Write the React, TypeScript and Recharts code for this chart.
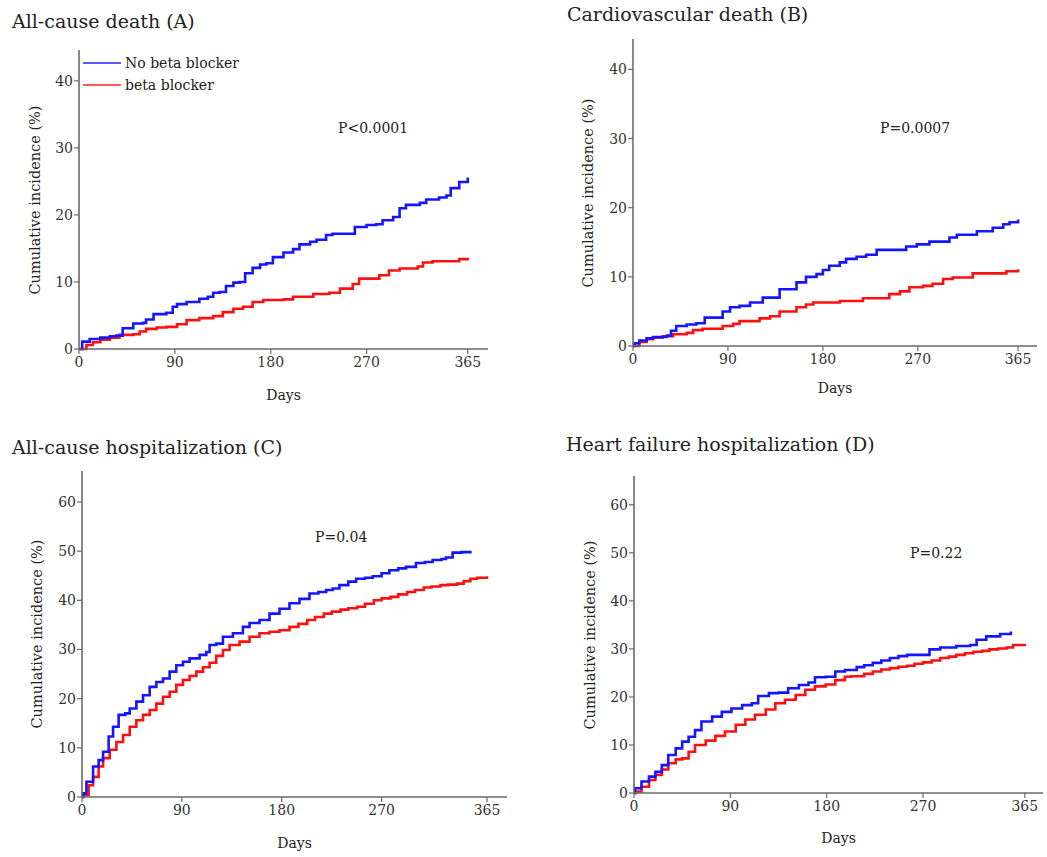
import React from 'react';
import { LineChart, Line, XAxis, YAxis } from 'recharts';

type Pt = [number, number];

const FONT = '"DejaVu Serif", "Liberation Serif", serif';
const BLUE = '#1515ff';
const RED = '#ff1010';
const AXIS = '#6a6a6a';

const DAY_TICKS = [0, 90, 180, 270, 365];
const DEATH_TICKS = [0, 10, 20, 30, 40];
const HOSP_TICKS = [0, 10, 20, 30, 40, 50, 60];
const SERIES_NAMES = ['No beta blocker', 'beta blocker'];
const PANEL_TITLES = [
  'All-cause death (A)',
  'Cardiovascular death (B)',
  'All-cause hospitalization (C)',
  'Heart failure hospitalization (D)',
];
const P_VALUES = ['P<0.0001', 'P=0.0007', 'P=0.04', 'P=0.22'];
const X_LABEL = 'Days';
const Y_LABEL = 'Cumulative incidence (%)';

// [day, cumulative incidence %]
const A_NO_BB: Pt[] = [[0,0],[3,1.1],[10,1.5],[20,1.7],[29,1.9],[35,2.0],[41,3.1],[51,3.8],[60,3.9],[63,4.4],[70,5.2],[82,5.4],[88,6.3],[92,6.7],[101,7.0],[113,7.5],[121,7.8],[126,8.4],[132,8.5],[138,9.4],[145,9.9],[151,10.0],[156,11.3],[163,12.1],[170,12.6],[176,12.8],[182,13.7],[192,14.4],[201,14.9],[207,15.6],[217,16.0],[223,16.3],[232,17.0],[238,17.2],[254,17.2],[259,18.2],[270,18.5],[279,18.6],[285,19.2],[295,19.7],[301,21.0],[307,21.5],[320,21.8],[326,22.3],[338,22.6],[345,22.9],[349,24.0],[357,24.9],[365,25.6]];
const A_BB: Pt[] = [[0,0],[7,0.6],[13,1.0],[20,1.4],[29,1.7],[38,2.1],[51,2.2],[57,2.6],[63,3.0],[73,3.2],[82,3.3],[92,3.7],[101,4.3],[113,4.6],[126,4.9],[135,5.5],[145,6.0],[154,6.3],[163,7.0],[173,7.3],[192,7.4],[201,7.8],[220,8.2],[235,8.4],[245,9.0],[257,9.7],[263,10.5],[282,11.0],[291,11.7],[301,12.0],[318,12.3],[323,12.9],[332,13.1],[357,13.4],[365,13.6]];

const B_NO_BB: Pt[] = [[0,0],[1.6,0.4],[6,0.8],[13,1.1],[19,1.3],[32,1.5],[36,2.2],[41,2.9],[51,3.1],[60,3.3],[68,4.1],[85,5.0],[92,5.6],[101,5.8],[111,6.3],[123,7.0],[139,8.2],[155,9.2],[164,10.0],[174,10.4],[180,11.0],[186,11.6],[196,12.1],[202,12.6],[212,12.9],[221,13.2],[231,13.9],[259,14.4],[269,14.7],[281,15.1],[300,15.7],[307,16.1],[326,16.6],[341,17.1],[351,17.6],[357,17.9],[365,18.3]];
const B_BB: Pt[] = [[0,0],[6,0.6],[13,1.0],[19,1.2],[28,1.4],[38,1.7],[51,1.9],[57,2.3],[66,2.5],[85,2.9],[95,3.2],[101,3.6],[120,4.0],[130,4.3],[139,5.0],[155,5.6],[164,6.0],[171,6.3],[196,6.5],[218,6.9],[243,7.5],[253,7.9],[262,8.5],[275,8.7],[284,9.0],[294,9.7],[303,9.9],[322,10.5],[354,10.8],[365,11.1]];

const C_NO_BB: Pt[] = [[0,0],[1,0.75],[4,3.1],[10,6.2],[15,7.5],[19,9.2],[24,12.3],[28,14.3],[33,16.7],[39,17.0],[43,18.0],[49,19.4],[55,20.7],[61,22.4],[67,23.4],[73,24.1],[79,25.5],[85,26.8],[91,27.5],[97,28.2],[106,28.9],[112,29.5],[115,30.9],[121,31.2],[127,32.6],[136,33.3],[145,34.6],[151,35.4],[160,36.0],[169,37.3],[178,38.3],[187,39.4],[196,40.3],[205,41.4],[213,41.7],[220,42.1],[226,42.4],[232,43.1],[240,43.8],[247,44.4],[255,44.6],[262,44.9],[270,45.5],[277,46.1],[285,46.5],[292,46.8],[301,47.6],[309,47.8],[316,48.2],[324,48.4],[328,48.7],[334,49.7],[342,49.8],[350,50.1]];
const C_BB: Pt[] = [[0,0],[1,0.4],[6,2.4],[10,4.1],[15,6.2],[19,7.9],[25,9.6],[31,11.2],[37,12.6],[43,14.3],[49,15.6],[55,16.7],[61,17.7],[67,19.0],[73,20.4],[79,21.4],[85,22.8],[91,23.8],[97,24.6],[103,25.5],[109,26.4],[115,27.3],[121,28.7],[127,29.9],[133,30.9],[142,31.6],[151,32.6],[160,33.3],[169,33.6],[178,33.9],[187,34.6],[195,35.2],[203,36.0],[210,36.6],[218,37.3],[225,37.7],[233,38.1],[240,38.4],[248,38.7],[255,39.3],[263,40.0],[270,40.4],[278,40.7],[285,41.2],[293,41.7],[300,42.1],[308,42.6],[315,42.8],[323,43.1],[330,43.2],[338,43.4],[344,43.9],[350,44.4],[356,44.6],[365,44.9]];

const D_NO_BB: Pt[] = [[0,0],[1,1.0],[7,2.4],[14,3.4],[20,4.4],[26,5.8],[32,7.9],[39,9.3],[45,10.7],[51,11.7],[57,13.1],[63,14.9],[73,15.9],[82,16.9],[91,17.6],[101,18.3],[110,18.7],[116,20.2],[126,20.8],[135,20.9],[144,21.8],[154,22.5],[163,23.0],[169,24.1],[179,24.2],[188,25.3],[197,25.6],[208,26.2],[215,26.6],[223,27.1],[231,27.6],[239,28.1],[247,28.5],[255,28.75],[276,29.9],[286,30.3],[301,30.6],[314,30.8],[320,31.9],[329,32.6],[342,33.1],[352,33.6]];
const D_BB: Pt[] = [[0,0],[2,0.3],[7,1.3],[14,2.7],[20,3.75],[26,4.9],[32,6.2],[39,7.0],[45,7.2],[51,8.6],[57,10.0],[67,10.9],[76,11.9],[85,12.8],[95,14.2],[104,15.3],[113,16.3],[123,17.4],[132,18.7],[141,19.4],[151,20.4],[160,21.5],[169,22.2],[179,22.6],[188,23.5],[197,24.2],[203,24.3],[215,24.8],[223,25.3],[231,25.7],[239,26.0],[247,26.3],[255,26.5],[262,26.9],[270,27.2],[278,27.6],[286,28.1],[294,28.4],[301,28.75],[309,29.1],[317,29.4],[325,29.6],[332,29.9],[340,30.1],[348,30.3],[354,30.8],[365,31.0]];

const toRows = (pts: Pt[]) => pts.map(([day, pct]) => ({ day, pct }));

const Y_AXIS_W = 40;
const X_AXIS_H = 30;
const M_TOP = 5;
const M_RIGHT = 3;

interface PanelProps {
  plotLeft: number;
  plotTop: number;
  plotW: number;
  plotH: number;
  xMax: number;
  yMax: number;
  yTicks: number[];
  noBB: Pt[];
  bb: Pt[];
  title: string;
  titleX: number;
  titleY: number;
  pText: string;
  pX: number;
  pY: number;
  yLabelX: number;
  daysY: number;
  legend?: boolean;
}

const textBase: React.CSSProperties = {
  position: 'absolute',
  fontFamily: FONT,
  color: '#222',
  lineHeight: 1,
  whiteSpace: 'nowrap',
};

function Panel(p: PanelProps) {
  const chartLeft = p.plotLeft - Y_AXIS_W;
  const chartTop = p.plotTop - M_TOP;
  const width = p.plotW + Y_AXIS_W + M_RIGHT;
  const height = p.plotH + M_TOP + X_AXIS_H;
  return (
    <>
      <div style={{ position: 'absolute', left: chartLeft, top: chartTop }}>
        <LineChart width={width} height={height} margin={{ top: M_TOP, right: M_RIGHT, bottom: 0, left: 0 }}>
          <XAxis
            type="number"
            dataKey="day"
            domain={[0, p.xMax]}
            ticks={DAY_TICKS}
            interval={0}
            height={X_AXIS_H}
            tickSize={5}
            tickMargin={3}
            axisLine={{ stroke: AXIS, strokeWidth: 1.6 }}
            tickLine={{ stroke: AXIS, strokeWidth: 1.2 }}
            tick={{ fill: '#333', fontSize: 14, fontFamily: FONT }}
          />
          <YAxis
            type="number"
            dataKey="pct"
            domain={[0, p.yMax]}
            ticks={p.yTicks}
            interval={0}
            width={Y_AXIS_W}
            tickSize={5}
            tickMargin={1}
            axisLine={{ stroke: AXIS, strokeWidth: 1.6 }}
            tickLine={{ stroke: AXIS, strokeWidth: 1.2 }}
            tick={{ fill: '#333', fontSize: 14, fontFamily: FONT }}
          />
          <Line
            data={toRows(p.bb)}
            dataKey="pct"
            name={SERIES_NAMES[1]}
            type="stepAfter"
            stroke={RED}
            strokeWidth={2.6}
            dot={false}
            activeDot={false}
            isAnimationActive={false}
          />
          <Line
            data={toRows(p.noBB)}
            dataKey="pct"
            name={SERIES_NAMES[0]}
            type="stepAfter"
            stroke={BLUE}
            strokeWidth={2.6}
            dot={false}
            activeDot={false}
            isAnimationActive={false}
          />
        </LineChart>
      </div>
      <div style={{ ...textBase, left: p.titleX, top: p.titleY - 10, fontSize: 19 }}>{p.title}</div>
      <div style={{ ...textBase, left: p.pX, top: p.pY - 7, fontSize: 14 }}>{p.pText}</div>
      <div
        style={{
          ...textBase,
          left: p.yLabelX,
          top: p.plotTop + p.plotH / 2,
          fontSize: 14.5,
          transform: 'translate(-50%, -50%) rotate(-90deg)',
        }}
      >
        {Y_LABEL}
      </div>
      <div
        style={{
          ...textBase,
          left: p.plotLeft + p.plotW / 2,
          top: p.daysY - 7,
          fontSize: 14,
          transform: 'translateX(-50%)',
        }}
      >
        {X_LABEL}
      </div>
      {p.legend && (
        <div style={{ position: 'absolute', left: p.plotLeft + 4, top: p.plotTop + 2 }}>
          {SERIES_NAMES.map((name, i) => (
            <div key={name} style={{ display: 'flex', alignItems: 'center', height: 22 }}>
              <span style={{ display: 'inline-block', width: 38, height: 2, background: i === 0 ? '#5a5aff' : '#ff5a5a', marginRight: 4 }} />
              <span style={{ fontFamily: FONT, fontSize: 14, color: '#222', lineHeight: 1 }}>{name}</span>
            </div>
          ))}
        </div>
      )}
    </>
  );
}

export default function App() {
  return (
    <div style={{ position: 'absolute', left: 0, top: 0, width: 1047, height: 857, overflow: 'hidden', background: '#fff' }}>
      <Panel
        plotLeft={79} plotTop={50} plotW={409} plotH={299} xMax={384} yMax={44.6} yTicks={DEATH_TICKS}
        noBB={A_NO_BB} bb={A_BB} title={PANEL_TITLES[0]} titleX={12} titleY={22}
        pText={P_VALUES[0]} pX={338} pY={128} yLabelX={35} daysY={395} legend
      />
      <Panel
        plotLeft={633} plotTop={39} plotW={404} plotH={307} xMax={383} yMax={44.4} yTicks={DEATH_TICKS}
        noBB={B_NO_BB} bb={B_BB} title={PANEL_TITLES[1]} titleX={567} titleY={15}
        pText={P_VALUES[1]} pX={880} pY={128} yLabelX={588} daysY={388}
      />
      <Panel
        plotLeft={82} plotTop={471} plotW={425} plotH={326} xMax={383} yMax={66.3} yTicks={HOSP_TICKS}
        noBB={C_NO_BB} bb={C_BB} title={PANEL_TITLES[2]} titleX={12} titleY={448}
        pText={P_VALUES[2]} pX={315} pY={537} yLabelX={37} daysY={843}
      />
      <Panel
        plotLeft={634} plotTop={476} plotW={409} plotH={317} xMax={382} yMax={66} yTicks={HOSP_TICKS}
        noBB={D_NO_BB} bb={D_BB} title={PANEL_TITLES[3]} titleX={566} titleY={445}
        pText={P_VALUES[3]} pX={910} pY={553} yLabelX={590} daysY={838}
      />
    </div>
  );
}
